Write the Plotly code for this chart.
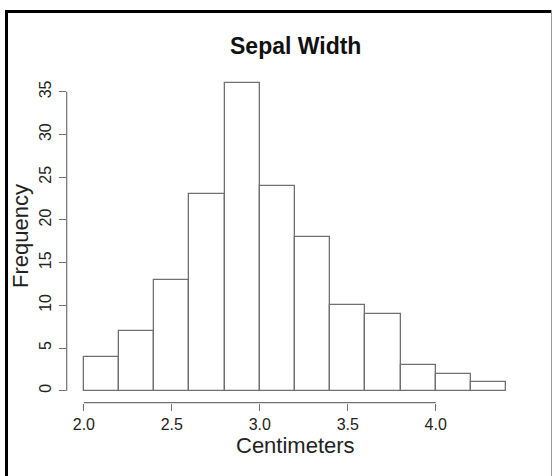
import plotly.graph_objects as go

# ---- data ----
bin_edges = [2.0, 2.2, 2.4, 2.6, 2.8, 3.0, 3.2, 3.4, 3.6, 3.8, 4.0, 4.2, 4.4]
counts = [4, 7, 13, 23, 36, 24, 18, 10, 9, 3, 2, 1]
x_ticks = [2.0, 2.5, 3.0, 3.5, 4.0]
x_tick_labels = ["2.0", "2.5", "3.0", "3.5", "4.0"]
y_ticks = [0, 5, 10, 15, 20, 25, 30, 35]
title_text = "Sepal Width"
x_title = "Centimeters"
y_title = "Frequency"

centers = [(a + b) / 2 for a, b in zip(bin_edges[:-1], bin_edges[1:])]
widths = [b - a for a, b in zip(bin_edges[:-1], bin_edges[1:])]

# ---- layout geometry (pixels) ----
W, H = 552, 476
L, R, T, B = 67, 29, 71, 73
pw, ph = W - L - R, H - T - B
def px(p):
    return (p - L) / pw
def py(p):
    return (H - B - p) / ph

# R-style 4% padding on ranges
xr = [bin_edges[0], bin_edges[-1]]
pad_x = 0.04 * (xr[1] - xr[0])
yr = [0, max(counts)]
pad_y = 0.04 * (yr[1] - yr[0])

FONT = "Liberation Sans, Arial, Helvetica, sans-serif"
EDGE = "#707070"

fig = go.Figure()
fig.add_trace(go.Bar(
    x=centers, y=counts, width=widths,
    marker=dict(color="white", line=dict(color=EDGE, width=1.3)),
    hoverinfo="x+y", showlegend=False,
))

fig.update_layout(
    width=W, height=H,
    margin=dict(l=L, r=R, t=T, b=B, pad=0),
    paper_bgcolor="white", plot_bgcolor="white",
    font=dict(family=FONT, color="#222"),
    bargap=0,
    xaxis=dict(
        range=[xr[0] - pad_x, xr[1] + pad_x],
        tickmode="array", tickvals=x_ticks, ticktext=x_tick_labels,
        ticks="outside", ticklen=7, tickcolor=EDGE, tickwidth=1.2,
        showgrid=False, zeroline=False, showline=False,
        tickfont=dict(size=16, family=FONT, color="#222"),
        ticklabelstandoff=0,
        automargin=False,
        fixedrange=True,
    ),
    yaxis=dict(
        range=[yr[0] - pad_y, yr[1] + pad_y],
        tickmode="array", tickvals=y_ticks,
        ticks="outside", ticklen=7, tickcolor=EDGE, tickwidth=1.2,
        showgrid=False, zeroline=False, showline=False,
        tickangle=-90,
        tickfont=dict(size=16, family=FONT, color="#222"),
        ticklabelstandoff=2,
        automargin=False,
        fixedrange=True,
    ),
    shapes=[
        # R-style axis lines spanning tick range only
        dict(type="line", xref="x", yref="paper", x0=x_ticks[0], x1=x_ticks[-1],
             y0=py(402.7), y1=py(402.7), line=dict(color=EDGE, width=1.2)),
        dict(type="line", xref="paper", yref="y", x0=px(66.7), x1=px(66.7),
             y0=y_ticks[0], y1=y_ticks[-1], line=dict(color=EDGE, width=1.2)),
        # outer frame
        dict(type="line", xref="paper", yref="paper", x0=px(5), x1=px(553),
             y0=py(11.5), y1=py(11.5), line=dict(color="black", width=3)),
        dict(type="line", xref="paper", yref="paper", x0=px(6.5), x1=px(6.5),
             y0=py(10), y1=py(490), line=dict(color="black", width=3)),
        dict(type="line", xref="paper", yref="paper", x0=px(551.5), x1=px(551.5),
             y0=py(10), y1=py(490), line=dict(color="#999", width=1)),
    ],
    annotations=[
        dict(text="<b>" + title_text + "</b>", xref="paper", yref="paper",
             x=px(295), y=py(46), xanchor="center", yanchor="middle",
             showarrow=False, font=dict(size=23, family=FONT, color="#111")),
        dict(text=x_title, xref="paper", yref="paper",
             x=px(295), y=py(445), xanchor="center", yanchor="middle",
             showarrow=False, font=dict(size=22, family=FONT, color="#222")),
        dict(text=y_title, xref="paper", yref="paper",
             x=px(20), y=py(236), xanchor="center", yanchor="middle",
             textangle=-90,
             showarrow=False, font=dict(size=22, family=FONT, color="#222")),
    ],
)

fig.write_html(
    "out.html",
    config={"displayModeBar": False},
    post_script="document.body.style.margin='0';document.body.style.padding='0';",
)
